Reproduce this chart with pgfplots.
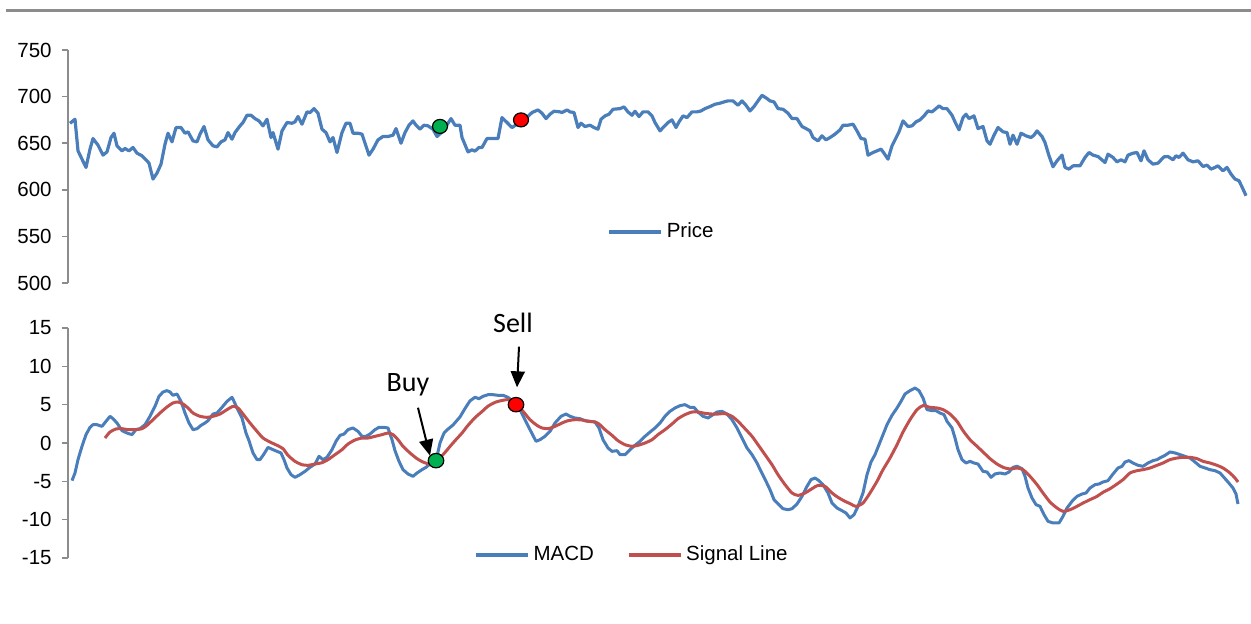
\documentclass[border=0pt]{standalone}
\usepackage{fontspec}
\setmainfont{Liberation Sans}
\newfontfamily\calloutfont{Carlito}
\usepackage{pgfplots}
\pgfplotsset{compat=1.18}
\usepackage{pgfplotstable}
\usetikzlibrary{arrows.meta}

\definecolor{priceblue}{HTML}{4A7EBB}
\definecolor{signalred}{HTML}{C0504D}
\definecolor{axgray}{HTML}{8C8C8C}
\definecolor{buygreen}{HTML}{00B050}
\definecolor{sellred}{HTML}{FF0000}

% day position, closing price
\pgfplotstableread{
x y
70 671.4
75 675.7
78 641.8
82 632.9
86 624
90 643.6
93 655
98 647.9
103 637.2
107 640.7
111 656.1
114 660.7
117 647.2
122 641.8
125 644.3
129 641.8
133 645.4
137 639.3
142 636.5
147 631.1
149 628.6
153 611.5
157 617.9
161 627.5
165 648.9
168 660.7
172 651.4
176 666.8
181 666.8
185 660.7
188 662.2
193 652.5
197 651.4
200 659.7
204 667.9
208 653.6
213 647.2
217 646.1
221 651.4
225 653.6
228 661.4
232 654.3
235 661.4
240 668.6
243 672.2
247 680
251 680
255 676.4
259 673.9
263 668.6
267 675.7
271 656.1
273 661.4
278 643.6
282 663.2
287 672.2
292 671.4
295 672.9
298 678.6
302 670.4
307 683.6
310 682.9
314 687.1
318 682.2
322 665
326 661.4
330 651.4
333 656.1
337 640
342 661.4
346 671.4
350 671.4
353 660.7
358 660.7
362 659.7
365 650
369 637.2
373 643.6
378 653.6
383 657.2
388 657.2
393 658.6
396 665.7
401 650
405 661.4
409 669.3
413 673.9
416 669.3
420 665
424 669.3
428 668.6
433 665
437 657.2
443 663
451 676.4
455 669.3
460 669.3
462 656.1
468 640.7
472 642.9
475 641.5
479 645.4
482 645.4
487 655
492 655
498 655
502 677.5
507 672.2
512 666.8
517 670.4
525 675.7
532 682.9
538 685.7
542 682.2
546 676.4
550 681.1
554 684.3
560 683.6
562 682.9
567 685.7
570 683.6
574 682.9
578 666.8
581 671.4
585 667.9
590 669.3
594 666.8
598 665
601 675.7
605 679.3
609 681.1
613 686.4
620 687.1
624 688.9
628 683.6
632 680
635 684.3
639 678.6
643 683.6
648 683.6
652 679.3
655 672.2
660 663.2
664 667.9
668 672.2
672 675
676 666.8
679 672.9
683 679.3
687 677.5
692 683.6
697 683.6
701 684.6
705 687.1
710 689.3
715 691.8
720 692.9
724 694.3
728 695.4
733 695.4
738 690.7
742 695.4
746 690.7
750 684.6
754 689.3
758 695.4
762 701.4
767 697.9
770 695.4
774 694.3
778 687.1
783 686.4
788 682.2
792 676.4
797 676.4
802 667.9
806 665.7
810 663.2
813 656.1
818 652.5
822 657.9
826 653.6
830 656.1
835 659.7
840 664.3
843 669.3
848 669.3
853 670.4
857 663.2
861 655
865 654.3
868 637.2
873 640
877 641.8
881 643.6
884 639.3
888 632.9
892 647.2
895 653.6
899 662.2
903 673.9
908 667.9
912 668.6
916 672.9
920 675
924 679.3
928 684.6
932 683.6
936 687.1
939 690
943 687.1
947 687.1
952 680
955 672.9
959 664.3
963 677.5
966 681.1
969 676.4
974 679.3
978 665.7
983 667.9
987 652.5
990 648.9
994 658.6
998 666.8
1003 662.2
1007 661.4
1010 648.9
1013 658.6
1017 648.9
1021 660.7
1026 657.9
1031 656.1
1034 658.6
1037 663.2
1042 657.2
1045 650.7
1049 636.5
1053 624.7
1057 631.1
1062 637.2
1065 624
1069 622.2
1073 625.7
1080 625.7
1085 634.7
1089 640
1093 637.2
1098 635.7
1105 629.3
1108 638.2
1113 634.7
1117 630
1121 632.2
1125 630
1128 637.2
1133 639.3
1137 640
1141 631.1
1144 641.8
1148 632.2
1153 627.5
1158 628.6
1164 635.4
1168 635.7
1173 632.2
1176 636.5
1179 634.7
1183 639.3
1188 632.2
1193 630
1198 631.1
1203 625
1207 626.5
1211 622.2
1215 624
1218 625.7
1223 620.4
1227 624
1231 616.8
1235 611.5
1239 609.7
1243 600.8
1246 593.6
}\pricedata

% day position, MACD
\pgfplotstableread{
x y
72 -4.91
75 -3.91
78 -2.17
82 -0.43
86 1.09
90 2.04
93 2.39
97 2.39
102 2.17
106 2.83
110 3.48
113 3.17
117 2.61
122 1.61
127 1.30
132 1.09
136 1.74
140 1.87
145 2.39
150 3.48
155 4.78
159 6.09
163 6.65
167 6.83
170 6.65
173 6.22
177 6.39
181 5.43
185 3.91
189 2.61
193 1.74
197 1.87
201 2.30
205 2.61
208 2.91
213 3.78
217 3.91
222 4.65
227 5.43
232 5.96
234 5.43
237 4.57
242 3.26
246 1.30
249 0.30
253 -1.30
257 -2.17
260 -2.17
264 -1.43
268 -0.57
273 -0.87
277 -1.09
281 -1.30
284 -2.17
287 -3.26
291 -4.13
295 -4.48
300 -4.13
305 -3.70
310 -3.17
315 -2.74
319 -1.74
323 -2.17
327 -1.87
332 -0.87
336 0.22
340 1.00
344 1.17
348 1.74
353 1.96
358 1.52
362 0.87
366 0.87
370 1.17
375 1.74
379 2.04
384 2.04
388 1.96
392 0.43
395 -1.00
399 -2.39
403 -3.48
408 -4.04
413 -4.35
417 -3.91
422 -3.48
426 -3.17
430 -2.74
436 -2.30
440 0.00
444 1.30
447 1.70
453 2.35
460 3.40
465 4.50
470 5.50
475 5.96
479 5.78
483 6.09
488 6.30
493 6.30
498 6.22
503 6.22
508 5.96
515 5.22
520 4.35
525 3.04
530 1.74
536 0.22
540 0.43
545 0.87
550 1.52
555 2.61
561 3.48
566 3.78
570 3.48
575 3.26
580 3.17
585 2.91
590 2.83
595 2.74
599 1.96
603 0.43
608 -0.65
612 -1.09
617 -1.00
620 -1.52
625 -1.52
630 -0.87
635 -0.30
640 0.22
645 0.87
650 1.43
655 1.96
660 2.61
665 3.48
670 4.13
675 4.57
680 4.87
685 5.00
690 4.65
694 4.65
698 4.04
703 3.48
708 3.26
712 3.61
717 4.04
722 4.13
727 3.78
732 3.04
737 1.96
742 0.65
747 -0.65
752 -1.52
757 -2.61
761 -3.70
766 -5.00
770 -6.09
774 -7.39
779 -8.04
783 -8.57
788 -8.70
792 -8.57
797 -7.96
802 -6.96
807 -5.65
811 -4.78
815 -4.57
819 -4.91
823 -5.43
828 -6.52
832 -7.83
837 -8.48
842 -8.83
846 -9.13
850 -9.78
854 -9.35
858 -8.26
863 -6.52
867 -4.13
871 -2.48
875 -1.52
879 -0.22
883 1.09
887 2.39
892 3.61
897 4.57
901 5.43
905 6.39
910 6.83
915 7.17
919 6.83
923 5.87
927 4.35
932 4.22
936 4.22
940 3.91
944 3.70
947 2.83
952 1.96
955 0.65
958 -0.87
962 -2.17
966 -2.61
970 -2.39
974 -2.61
978 -2.74
983 -3.70
987 -3.78
991 -4.48
995 -4.04
1000 -3.91
1005 -4.04
1009 -3.78
1013 -3.17
1017 -3.04
1022 -3.35
1025 -4.35
1028 -5.87
1032 -7.17
1036 -8.04
1040 -8.26
1044 -9.35
1048 -10.22
1053 -10.43
1059 -10.43
1063 -9.57
1067 -8.48
1072 -7.61
1077 -6.96
1082 -6.65
1086 -6.52
1090 -5.87
1095 -5.43
1099 -5.35
1103 -5.09
1108 -4.91
1113 -4.04
1118 -3.26
1122 -3.04
1125 -2.48
1129 -2.30
1133 -2.61
1138 -2.91
1143 -3.04
1148 -2.61
1153 -2.30
1157 -2.17
1161 -1.87
1165 -1.61
1170 -1.17
1175 -1.30
1180 -1.52
1185 -1.74
1190 -1.96
1195 -2.48
1200 -3.04
1205 -3.26
1210 -3.48
1215 -3.61
1220 -3.91
1223 -4.35
1228 -5.09
1233 -5.87
1236 -6.65
1238 -7.96
}\macddata

% day position, signal line
\pgfplotstableread{
x y
105 0.65
110 1.43
116 1.83
122 1.87
128 1.74
135 1.74
142 1.87
147 2.30
153 3.04
160 3.91
167 4.70
173 5.22
178 5.35
183 5.09
188 4.57
193 3.91
200 3.48
207 3.35
213 3.48
220 3.78
227 4.35
233 4.78
238 4.57
243 3.78
250 2.61
257 1.52
263 0.65
270 0.13
277 -0.30
283 -0.74
288 -1.61
295 -2.39
302 -2.83
308 -2.91
315 -2.74
322 -2.57
328 -2.17
335 -1.52
342 -0.87
348 -0.13
355 0.39
362 0.65
368 0.65
375 0.87
382 1.09
388 1.30
393 1.09
398 0.43
403 -0.43
410 -1.30
417 -2.04
423 -2.48
430 -2.74
436 -2.30
443 -1.52
450 -0.45
455 0.30
462 1.30
468 2.30
475 3.30
482 4.10
488 4.80
495 5.30
502 5.55
510 5.65
516 5.00
523 4.13
530 3.04
537 2.30
542 1.96
548 1.87
555 2.17
562 2.61
568 2.91
575 3.04
582 3.00
588 2.83
595 2.74
599 2.48
605 1.74
612 1.00
618 0.30
625 -0.22
632 -0.43
638 -0.30
645 0.00
652 0.43
658 1.09
665 1.74
672 2.48
678 3.17
685 3.70
692 4.04
698 4.04
705 3.87
712 3.78
718 3.78
725 3.83
732 3.48
738 2.83
745 1.87
752 0.87
758 -0.22
765 -1.52
772 -2.83
778 -4.13
785 -5.43
792 -6.52
798 -6.83
805 -6.52
812 -5.96
818 -5.52
825 -5.65
832 -6.52
838 -7.09
845 -7.61
850 -7.90
856 -8.26
863 -7.83
870 -6.52
877 -5.00
883 -3.48
890 -1.96
897 -0.22
903 1.43
910 3.04
917 4.35
923 4.87
930 4.65
937 4.57
943 4.35
950 3.78
957 2.83
963 1.61
970 0.43
977 -0.43
983 -1.17
990 -2.04
997 -2.74
1003 -3.17
1010 -3.39
1017 -3.26
1023 -3.48
1030 -4.35
1037 -5.43
1043 -6.52
1050 -7.70
1057 -8.48
1063 -8.91
1070 -8.70
1077 -8.26
1083 -7.83
1090 -7.39
1097 -6.96
1103 -6.43
1110 -5.96
1117 -5.35
1123 -4.78
1130 -3.91
1137 -3.61
1143 -3.48
1150 -3.26
1157 -2.91
1163 -2.61
1170 -2.17
1177 -1.96
1183 -1.87
1190 -1.87
1197 -2.04
1203 -2.39
1210 -2.61
1217 -2.91
1223 -3.26
1230 -3.91
1235 -4.57
1238 -5.09
}\signaldata

\newcommand{\ticksize}{\fontsize{10.25}{12}\selectfont}

\pgfplotsset{
  panel/.style={
    anchor=south west,
    scale only axis,
    width=591pt,
    xmin=68, xmax=1250,
    hide x axis,
    axis y line=left,
    y axis line style={-, draw=axgray, line width=0.75pt},
    ytick pos=left,
    tick align=outside,
    major tick length=3pt,
    ytick style={draw=axgray, line width=0.75pt},
    yticklabel style={font=\ticksize, anchor=east, inner sep=0pt, xshift=-5pt},
    clip=false,
    legend style={draw=none, fill=none, font=\ticksize,
      /tikz/every even column/.append style={column sep=14.5pt}},
    legend cell align=left,
    legend image code/.code={\draw[#1, line width=1.6pt] (0pt,0pt) -- (26pt,0pt);},
  },
}

\begin{document}
\begin{tikzpicture}
\useasboundingbox (0pt,0pt) rectangle (625.5pt,-312pt);
% rule along the top
\draw[draw=axgray, line width=1.35pt] (3pt,-5.35pt) -- (625.5pt,-5.35pt);

% price panel
\begin{axis}[panel,
  at={(34pt,-141.5pt)},
  height=116.5pt,
  ymin=500, ymax=750,
  ytick={500,550,600,650,700,750},
  yticklabels={500,550,600,650,700,750},
  legend style={at={(0.503,0.219)}, anchor=center},
]
\addplot[priceblue, line width=1.6pt, line join=round] table[x=x, y=y] {\pricedata};
\addlegendentry{Price}
\addplot[forget plot, only marks, mark=*, mark size=3.5pt,
  mark options={xscale=1.07, fill=buygreen, draw=black, line width=0.6pt}]
  coordinates {(440,668)};
\addplot[forget plot, only marks, mark=*, mark size=3.5pt,
  mark options={xscale=1.07, fill=sellred, draw=black, line width=0.6pt}]
  coordinates {(521,675)};
\end{axis}

% MACD panel
\begin{axis}[panel,
  at={(34pt,-279pt)},
  height=115pt,
  ymin=-15, ymax=15,
  ytick={-15,-10,-5,0,5,10,15},
  yticklabels={-15,-10,-5,0,5,10,15},
  legend columns=2,
  legend style={at={(0.478,0.013)}, anchor=center},
]
\addplot[priceblue, line width=1.5pt, line join=round] table[x=x, y=y] {\macddata};
\addlegendentry{MACD}
\addplot[signalred, line width=1.5pt, smooth, tension=0.4] table[x=x, y=y] {\signaldata};
\addlegendentry{Signal Line}
\addplot[forget plot, only marks, mark=*, mark size=3.6pt,
  mark options={xscale=1.08, fill=buygreen, draw=black, line width=0.6pt}]
  coordinates {(436,-2.3)};
\addplot[forget plot, only marks, mark=*, mark size=3.6pt,
  mark options={xscale=1.08, fill=sellred, draw=black, line width=0.6pt}]
  coordinates {(516,5.0)};
\draw[-{Triangle[length=8pt,width=7pt]}, line width=1pt]
  (axis cs:418,4.6) -- (axis cs:430,-1.65);
\draw[-{Triangle[length=8pt,width=7pt]}, line width=1pt]
  (axis cs:519,12.56) -- (axis cs:517,7.26);
\node[font=\calloutfont\fontsize{14}{16}\selectfont, inner sep=0pt] at (axis cs:408,7.57) {Buy};
\node[font=\calloutfont\fontsize{14}{16}\selectfont, inner sep=0pt] at (axis cs:513,15.7) {Sell};
\end{axis}
\end{tikzpicture}
\end{document}
